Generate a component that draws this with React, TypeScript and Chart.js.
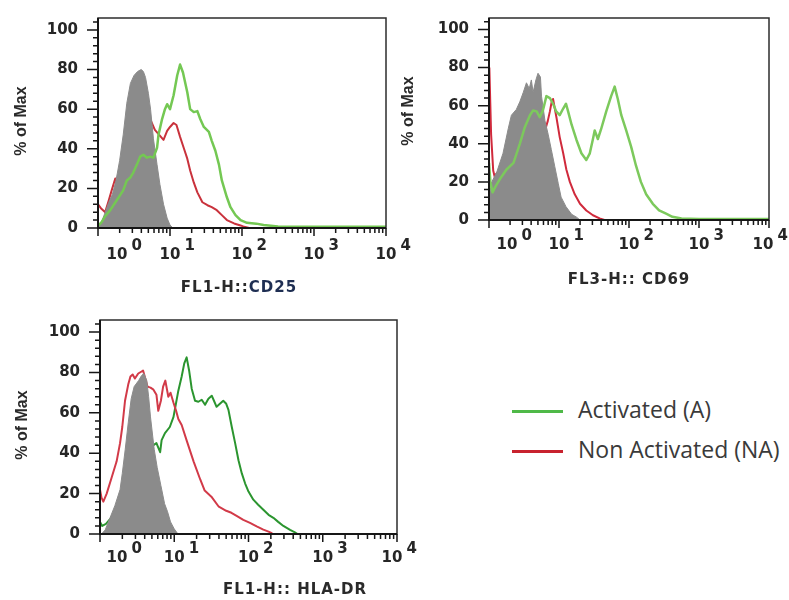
import React, { useEffect, useRef } from "react";
import { Chart, registerables } from "chart.js";

Chart.register(...registerables);

// ---------- DATA (x = log10 fluorescence, y = % of Max) ----------
// Panel 1: FL1-H::CD25
const cd25ControlLog = [0, 0.05, 0.1, 0.15, 0.2, 0.25, 0.3, 0.35, 0.4, 0.45, 0.5, 0.55, 0.6, 0.63, 0.66, 0.7, 0.73, 0.77, 0.82, 0.86, 0.91, 0.96, 1.0, 1.04];
const cd25ControlPct = [0, 3, 8, 13, 17, 24, 34, 47, 63, 73, 77, 79, 80, 79, 76, 68, 60, 45, 32, 22, 12, 5, 1.5, 0];
const cd25ActLog = [0, 0.05, 0.1, 0.17, 0.26, 0.35, 0.4, 0.45, 0.49, 0.54, 0.585, 0.63, 0.68, 0.725, 0.77, 0.82, 0.84, 0.89, 0.93, 0.96, 1.0, 1.05, 1.1, 1.14, 1.18, 1.24, 1.28, 1.33, 1.38, 1.42, 1.47, 1.54, 1.58, 1.63, 1.68, 1.72, 1.79, 1.84, 1.91, 1.98, 2.07, 2.2, 2.3, 2.5, 3.0, 3.5, 4.0];
const cd25ActPct = [1, 3, 6, 9, 14, 19, 24, 25.5, 28, 32, 36, 37, 35.5, 36, 35.5, 40.5, 47, 55, 60, 62.5, 60, 67, 77, 82.5, 78.5, 68.5, 60, 58.5, 59, 55, 51, 48.5, 44, 39, 32, 24, 15.5, 10.5, 6.5, 4, 2.6, 2.2, 1.5, 0.8, 0.6, 0.6, 0.6];
const cd25NonActLog = [0, 0.04, 0.1, 0.15, 0.19, 0.24, 0.27, 0.35, 0.45, 0.55, 0.65, 0.725, 0.79, 0.85, 0.91, 0.96, 1.0, 1.05, 1.09, 1.14, 1.19, 1.24, 1.28, 1.33, 1.38, 1.45, 1.52, 1.58, 1.65, 1.72, 1.79, 1.89, 1.98, 2.03, 2.1];
const cd25NonActPct = [12, 10, 8, 14, 19, 25, 20, 30, 40, 48, 54, 55, 49.5, 47, 44.5, 49, 51, 53, 52, 46, 40.5, 35, 29, 23, 18, 13, 11.5, 10.5, 9, 6.5, 4, 2.3, 1.3, 0.6, 0];

// Panel 2: FL3-H:: CD69
const cd69ControlLog = [0, 0.04, 0.11, 0.2, 0.275, 0.32, 0.39, 0.44, 0.49, 0.535, 0.575, 0.605, 0.63, 0.67, 0.7, 0.735, 0.75, 0.8, 0.845, 0.89, 0.94, 0.99, 1.03, 1.1, 1.18, 1.25, 1.3];
const cd69ControlPct = [12, 20, 25, 35, 48, 55, 58, 62, 67, 72, 69, 73.5, 67, 73.5, 77, 75, 65, 52, 45, 37, 28, 19, 12, 7, 3, 1.5, 0];
const cd69ActLog = [0, 0.02, 0.05, 0.1, 0.156, 0.25, 0.35, 0.44, 0.51, 0.585, 0.63, 0.68, 0.725, 0.77, 0.82, 0.87, 0.915, 0.96, 1.01, 1.06, 1.1, 1.13, 1.18, 1.25, 1.32, 1.39, 1.44, 1.485, 1.51, 1.555, 1.6, 1.675, 1.745, 1.795, 1.84, 1.89, 1.96, 2.03, 2.1, 2.17, 2.245, 2.34, 2.43, 2.53, 2.62, 2.75, 3.0, 3.5, 4.0];
const cd69ActPct = [30, 20, 14.5, 18, 21.5, 26.5, 30, 40, 48.5, 55, 57.5, 57, 54, 57.5, 65, 64, 61, 57, 55, 58.5, 61, 57, 50, 42, 35, 31.5, 35, 42.5, 47, 42.5, 47.5, 57, 65, 70, 63.5, 55, 47, 38.5, 28.5, 20, 13.5, 8.5, 5, 3.3, 1.7, 0.8, 0.5, 0.5, 0.5];
const cd69NonActLog = [0.005, 0.03, 0.06, 0.085, 0.1, 0.2, 0.3, 0.4, 0.5, 0.6, 0.7, 0.8, 0.84, 0.87, 0.895, 0.915, 0.94, 0.965, 1.01, 1.06, 1.105, 1.155, 1.225, 1.3, 1.39, 1.485, 1.58, 1.65];
const cd69NonActPct = [80, 45, 26, 22, 24, 28, 36, 44, 50, 53, 50, 47, 52, 57, 62, 63.5, 58.5, 53.5, 43.5, 35, 26.5, 20, 13.5, 8.5, 5, 2.5, 0.8, 0];

// Panel 3: FL1-H:: HLA-DR
const hlaControlLog = [0.02, 0.07, 0.135, 0.2, 0.27, 0.3, 0.34, 0.38, 0.42, 0.46, 0.52, 0.56, 0.59, 0.63, 0.655, 0.68, 0.73, 0.77, 0.82, 0.87, 0.91, 0.95, 1.0, 1.05];
const hlaControlPct = [0, 2, 8, 14, 22, 30, 42, 55, 67, 73, 76, 78.5, 79.5, 76, 68, 58, 42, 33, 24, 15, 11, 6, 2.5, 0];
const hlaActLog = [0, 0.03, 0.08, 0.15, 0.25, 0.35, 0.45, 0.55, 0.65, 0.72, 0.76, 0.81, 0.83, 0.875, 0.94, 0.99, 1.02, 1.055, 1.1, 1.135, 1.167, 1.2, 1.235, 1.28, 1.325, 1.37, 1.415, 1.46, 1.505, 1.535, 1.57, 1.615, 1.66, 1.7, 1.73, 1.775, 1.82, 1.865, 1.91, 1.955, 2.0, 2.065, 2.13, 2.2, 2.27, 2.335, 2.4, 2.47, 2.56, 2.625, 2.66];
const hlaActPct = [6, 4, 5, 8, 14, 22, 30, 36, 41, 44, 45, 40.5, 46.5, 50, 53, 58, 64, 71, 78, 84.5, 87.5, 81, 72, 66, 65.5, 66.5, 64, 67, 68.5, 66, 63, 64.5, 66, 64.5, 61.5, 53, 45, 36.5, 30, 25, 21, 17, 14.5, 12, 9.5, 8, 6, 4, 2, 0.8, 0];
const hlaNonActLog = [0, 0.02, 0.045, 0.09, 0.157, 0.224, 0.27, 0.3, 0.337, 0.38, 0.41, 0.44, 0.47, 0.515, 0.56, 0.58, 0.61, 0.64, 0.68, 0.72, 0.76, 0.785, 0.82, 0.85, 0.88, 0.92, 0.95, 0.99, 1.025, 1.055, 1.1, 1.17, 1.26, 1.35, 1.41, 1.5, 1.6, 1.7, 1.77, 1.84, 1.93, 2.02, 2.11, 2.2, 2.27, 2.32];
const hlaNonActPct = [22, 18, 16, 20, 28, 36, 45, 53, 66, 74, 78, 79, 77, 79.5, 80.5, 81, 77, 73, 72.5, 71.5, 69, 61, 66, 73, 76, 68, 70, 65, 61, 57, 54, 46, 36, 27, 21.5, 18.5, 13.5, 11.5, 10.5, 9, 7, 5.5, 3.8, 2.2, 1.2, 0.3];

// Axis definitions
const decadeExponents = [0, 1, 2, 3, 4];
const yMajorTicks = [0, 20, 40, 60, 80, 100];
const yAxisTitle = "% of Max";
const legendLabels = ["Activated (A)", "Non Activated (NA)"];

// ---------- STYLE ----------
const GRAY_FILL = "#8b8b8b";
const LEGEND_GREEN = "#4fb948";
const LEGEND_RED = "#c8222e";

const toPoints = (logs: number[], pct: number[]) =>
  logs.map((l, i) => ({ x: Math.pow(10, l), y: pct[i] }));

type TitlePart = { text: string; color: string };

interface PanelSpec {
  key: string;
  left: number;
  top: number;
  width: number;
  height: number;
  padTop: number;
  padRight: number;
  yAxisWidth: number;
  xAxisHeight: number;
  xTitle: TitlePart[];
  xTitleX: number;
  xTitleY: number;
  yTitleX: number;
  yTitleY: number;
  labelOffset: number;
  firstShift: number;
  lastShift: number;
  datasets: any[];
}

const lineDs = (label: string, pts: any[], color: string, width: number, order: number) => ({
  label,
  data: pts,
  borderColor: color,
  borderWidth: width,
  pointRadius: 0,
  tension: 0,
  fill: false,
  borderJoinStyle: "round",
  order,
});

const fillDs = (label: string, pts: any[], order: number) => ({
  label,
  data: pts,
  borderColor: GRAY_FILL,
  backgroundColor: GRAY_FILL,
  borderWidth: 1,
  pointRadius: 0,
  tension: 0,
  fill: "origin",
  order,
});

const panels: PanelSpec[] = [
  {
    key: "cd25",
    left: 0,
    top: 0,
    width: 415,
    height: 300,
    padTop: 14,
    padRight: 29,
    yAxisWidth: 98,
    xAxisHeight: 72,
    xTitle: [
      { text: "FL1-H::", color: "#2a2a2a" },
      { text: "CD25", color: "#1e2e52" },
    ],
    xTitleX: 239,
    xTitleY: 288,
    yTitleX: 22,
    yTitleY: 121,
    labelOffset: 27,
    firstShift: 19,
    lastShift: 0,
    datasets: [
      lineDs("Non Activated (NA)", toPoints(cd25NonActLog, cd25NonActPct), "#c9323c", 2, 2),
      fillDs("Control", toPoints(cd25ControlLog, cd25ControlPct), 1),
      lineDs("Activated (A)", toPoints(cd25ActLog, cd25ActPct), "#74c853", 2.5, 0),
    ],
  },
  {
    key: "cd69",
    left: 390,
    top: 0,
    width: 399,
    height: 300,
    padTop: 9,
    padRight: 20,
    yAxisWidth: 99,
    xAxisHeight: 80,
    xTitle: [{ text: "FL3-H:: CD69", color: "#2a2a2a" }],
    xTitleX: 239,
    xTitleY: 280,
    yTitleX: 19,
    yTitleY: 111,
    labelOffset: 25,
    firstShift: 18,
    lastShift: -6,
    datasets: [
      lineDs("Non Activated (NA)", toPoints(cd69NonActLog, cd69NonActPct), "#d02a3c", 2, 2),
      fillDs("Control", toPoints(cd69ControlLog, cd69ControlPct), 1),
      lineDs("Activated (A)", toPoints(cd69ActLog, cd69ActPct), "#7cc95c", 2.5, 0),
    ],
  },
  {
    key: "hla",
    left: 0,
    top: 300,
    width: 430,
    height: 300,
    padTop: 20,
    padRight: 33,
    yAxisWidth: 100,
    xAxisHeight: 66,
    xTitle: [{ text: "FL1-H:: HLA-DR", color: "#2a2a2a" }],
    xTitleX: 295,
    xTitleY: 290,
    yTitleX: 23,
    yTitleY: 125,
    labelOffset: 24,
    firstShift: 17,
    lastShift: -5,
    datasets: [
      lineDs("Activated (A)", toPoints(hlaActLog, hlaActPct), "#2b952f", 2, 2),
      lineDs("Non Activated (NA)", toPoints(hlaNonActLog, hlaNonActPct), "#d23a48", 2, 1),
      fillDs("Control", toPoints(hlaControlLog, hlaControlPct), 0),
    ],
  },
];

const facsAxesPlugin = {
  id: "facsAxes",
  afterDraw(chart: any, _args: any, opts: any) {
    const spec: PanelSpec = opts.spec;
    if (!spec) return;
    const { ctx } = chart;
    const { left, right, top, bottom } = chart.chartArea;
    const xs = chart.scales.x;
    const ys = chart.scales.y;
    ctx.save();

    // frame
    ctx.strokeStyle = "#2c2c2c";
    ctx.lineWidth = 1.5;
    ctx.strokeRect(left, top, right - left, bottom - top);

    // axis lines
    ctx.strokeStyle = "#161616";
    ctx.lineWidth = 2;
    ctx.beginPath();
    ctx.moveTo(left, top);
    ctx.lineTo(left, bottom);
    ctx.lineTo(right, bottom);
    ctx.stroke();

    // tick marks
    ctx.lineWidth = 1.5;
    ctx.beginPath();
    const yMax = ys.max;
    for (let v = 0; v <= yMax; v += 4) {
      const y = ys.getPixelForValue(v);
      const len = v % 20 === 0 ? 11 : 5;
      ctx.moveTo(left - len, y);
      ctx.lineTo(left, y);
    }
    for (let k = 0; k < decadeExponents.length - 1; k++) {
      for (let m = 1; m <= 9; m++) {
        const x = xs.getPixelForValue(m * Math.pow(10, decadeExponents[k]));
        const len = m === 1 ? 8 : 5;
        ctx.moveTo(x, bottom);
        ctx.lineTo(x, bottom + len);
      }
    }
    const xEnd = xs.getPixelForValue(Math.pow(10, decadeExponents[decadeExponents.length - 1]));
    ctx.moveTo(xEnd, bottom);
    ctx.lineTo(xEnd, bottom + 8);
    ctx.stroke();

    // x tick labels: 10 with superscript exponent
    ctx.font = 'bold 15px "DejaVu Sans", sans-serif';
    ctx.fillStyle = "#262626";
    ctx.textBaseline = "middle";
    const baseW = ctx.measureText("10").width;
    decadeExponents.forEach((k, i) => {
      let cx = xs.getPixelForValue(Math.pow(10, k));
      if (i === 0) cx += spec.firstShift;
      if (i === decadeExponents.length - 1) cx += spec.lastShift;
      const ly = bottom + spec.labelOffset;
      ctx.textAlign = "center";
      ctx.fillText("10", cx, ly);
      ctx.textAlign = "left";
      ctx.fillText(String(k), cx + baseW / 2 + 4, ly - 9);
    });

    // x axis title
    ctx.font = 'bold 15px "DejaVu Sans", sans-serif';
    (ctx as any).letterSpacing = "1px";
    ctx.textAlign = "left";
    const widths = spec.xTitle.map((p) => ctx.measureText(p.text).width);
    const total = widths.reduce((a, b) => a + b, 0);
    let tx = spec.xTitleX - total / 2;
    spec.xTitle.forEach((p, i) => {
      ctx.fillStyle = p.color;
      ctx.fillText(p.text, tx, spec.xTitleY);
      tx += widths[i];
    });
    (ctx as any).letterSpacing = "0px";

    // y axis title
    ctx.translate(spec.yTitleX, spec.yTitleY);
    ctx.rotate(-Math.PI / 2);
    ctx.font = 'bold 16px "Liberation Sans Narrow", "Liberation Sans", sans-serif';
    ctx.fillStyle = "#2a2a2a";
    ctx.textAlign = "center";
    ctx.textBaseline = "middle";
    ctx.fillText(yAxisTitle, 0, 0);
    ctx.restore();
  },
};

function FacsPanel({ spec }: { spec: PanelSpec }) {
  const ref = useRef<HTMLCanvasElement>(null);
  useEffect(() => {
    if (!ref.current) return;
    const chart = new Chart(ref.current, {
      type: "line",
      data: { datasets: spec.datasets },
      options: {
        responsive: false,
        animation: false,
        events: [],
        layout: {
          autoPadding: false,
          padding: { left: 0, top: spec.padTop, right: spec.padRight, bottom: 0 },
        },
        plugins: {
          legend: { display: false },
          tooltip: { enabled: false },
          facsAxes: { spec },
        } as any,
        scales: {
          x: {
            type: "logarithmic",
            min: 1,
            max: 10000,
            ticks: { display: false },
            grid: { display: false },
            border: { display: false },
            afterFit: (s: any) => {
              s.height = spec.xAxisHeight;
            },
          },
          y: {
            type: "linear",
            min: 0,
            max: 106,
            afterBuildTicks: (s: any) => {
              s.ticks = yMajorTicks.map((v) => ({ value: v }));
            },
            ticks: {
              font: { family: '"DejaVu Sans", sans-serif', size: 15, weight: "bold" },
              color: "#262626",
              padding: 9,
            },
            grid: {
              display: true,
              drawOnChartArea: false,
              drawTicks: true,
              tickLength: 11,
              tickColor: "rgba(0,0,0,0)",
            },
            border: { display: false },
            afterFit: (s: any) => {
              s.width = spec.yAxisWidth;
            },
          },
        },
      } as any,
      plugins: [facsAxesPlugin],
    });
    return () => chart.destroy();
  }, [spec]);
  return (
    <canvas
      ref={ref}
      width={spec.width}
      height={spec.height}
      style={{ position: "absolute", left: spec.left, top: spec.top, width: spec.width, height: spec.height }}
    />
  );
}

const legendTextStyle: React.CSSProperties = {
  position: "absolute",
  left: 578,
  fontFamily: '"Open Sans", "Lato", sans-serif',
  fontSize: 23,
  lineHeight: "23px",
  color: "#3a3a3a",
  whiteSpace: "nowrap",
};

export default function App() {
  return (
    <div style={{ position: "absolute", left: 0, top: 0, width: 789, height: 600, background: "#fff", overflow: "hidden" }}>
      {panels.map((p) => (
        <FacsPanel key={p.key} spec={p} />
      ))}
      <div style={{ position: "absolute", left: 512, top: 410, width: 51, height: 3, background: LEGEND_GREEN }} />
      <div style={{ ...legendTextStyle, top: 398 }}>{legendLabels[0]}</div>
      <div style={{ position: "absolute", left: 512, top: 450, width: 51, height: 3, background: LEGEND_RED }} />
      <div style={{ ...legendTextStyle, top: 438 }}>{legendLabels[1]}</div>
    </div>
  );
}
